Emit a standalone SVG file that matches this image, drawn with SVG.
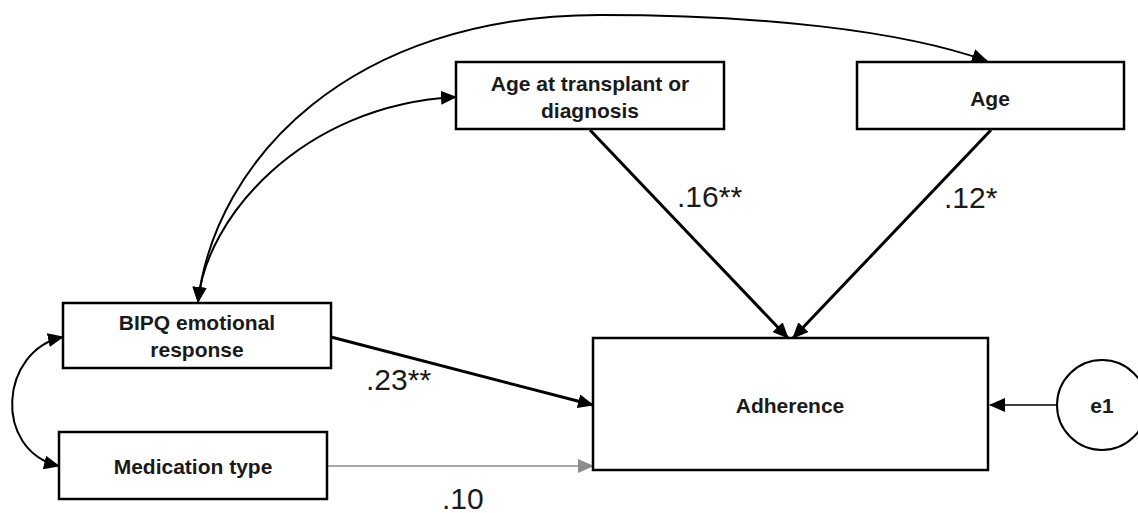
<svg xmlns="http://www.w3.org/2000/svg" width="1138" height="513" viewBox="0 0 1138 513">
  <style>
    .box { fill: #fff; stroke: #000; stroke-width: 2.5; }
    .lbl { font-family: "Liberation Sans", Arial, sans-serif; font-weight: bold; font-size: 21px; fill: #1a1a1a; text-anchor: middle; }
    .coef { font-family: "Liberation Sans", Arial, sans-serif; font-size: 30px; fill: #1a1a1a; }
    .thick { fill: none; stroke: #000; stroke-width: 3; }
    .curve { fill: none; stroke: #000; stroke-width: 2; }
    .thin { fill: none; stroke: #000; stroke-width: 1.5; }
    .grey { fill: none; stroke: #8c8c8c; stroke-width: 1.5; }
  </style>
  <defs>
    <marker id="arrow" markerUnits="userSpaceOnUse" markerWidth="16" markerHeight="14" refX="15" refY="7" orient="auto-start-reverse">
      <path d="M0,0 L16,7 L0,14 z" fill="#000"/>
    </marker>
    <marker id="arrow-grey" markerUnits="userSpaceOnUse" markerWidth="16" markerHeight="14" refX="15" refY="7" orient="auto">
      <path d="M0,0 L16,7 L0,14 z" fill="#8c8c8c"/>
    </marker>
  </defs>

  <!-- connectors -->
  <g id="connectors">
    <!-- covariances -->
    <path class="curve" d="M198,302 C215,160 350,15 600,15 C760,15 900,30 987,61" marker-start="url(#arrow)" marker-end="url(#arrow)"/>
    <path class="curve" d="M198,302 C205,220 300,105 456,97" marker-start="url(#arrow)" marker-end="url(#arrow)"/>
    <path class="curve" d="M63,337 C0,350 -8,450 59,466" marker-start="url(#arrow)" marker-end="url(#arrow)"/>
    <!-- regression paths -->
    <path class="thick" d="M590,130 L788,338" marker-end="url(#arrow)"/>
    <path class="thick" d="M991,130 L793,338" marker-end="url(#arrow)"/>
    <path class="thick" d="M331,337 L593,405" marker-end="url(#arrow)"/>
    <path class="grey" d="M327,466 L593,466" marker-end="url(#arrow-grey)"/>
    <path class="thin" d="M1057,405 L990,405" marker-end="url(#arrow)"/>
  </g>

  <!-- path coefficients -->
  <g id="coefficients">
    <text class="coef" x="677" y="207">.16**</text>
    <text class="coef" x="944" y="208">.12*</text>
    <text class="coef" x="366" y="390">.23**</text>
    <text class="coef" x="442" y="509">.10</text>
  </g>

  <g id="node-age-transplant">
    <rect class="box" x="456" y="62" width="268" height="67"/>
    <text class="lbl" x="590" y="91">Age at transplant or</text>
    <text class="lbl" x="590" y="118">diagnosis</text>
  </g>

  <g id="node-age">
    <rect class="box" x="857" y="62" width="267" height="67"/>
    <text class="lbl" x="990" y="106">Age</text>
  </g>

  <g id="node-bipq">
    <rect class="box" x="63" y="303" width="268" height="65"/>
    <text class="lbl" x="197" y="330">BIPQ emotional</text>
    <text class="lbl" x="197" y="357">response</text>
  </g>

  <g id="node-medication">
    <rect class="box" x="59" y="432" width="268" height="67"/>
    <text class="lbl" x="193" y="474">Medication type</text>
  </g>

  <g id="node-adherence">
    <rect class="box" x="593" y="338" width="395" height="132"/>
    <text class="lbl" x="790" y="413">Adherence</text>
  </g>

  <g id="node-e1">
    <circle cx="1102" cy="405" r="45" fill="#fff" stroke="#000" stroke-width="2"/>
    <text class="lbl" x="1102" y="413">e1</text>
  </g>
</svg>
